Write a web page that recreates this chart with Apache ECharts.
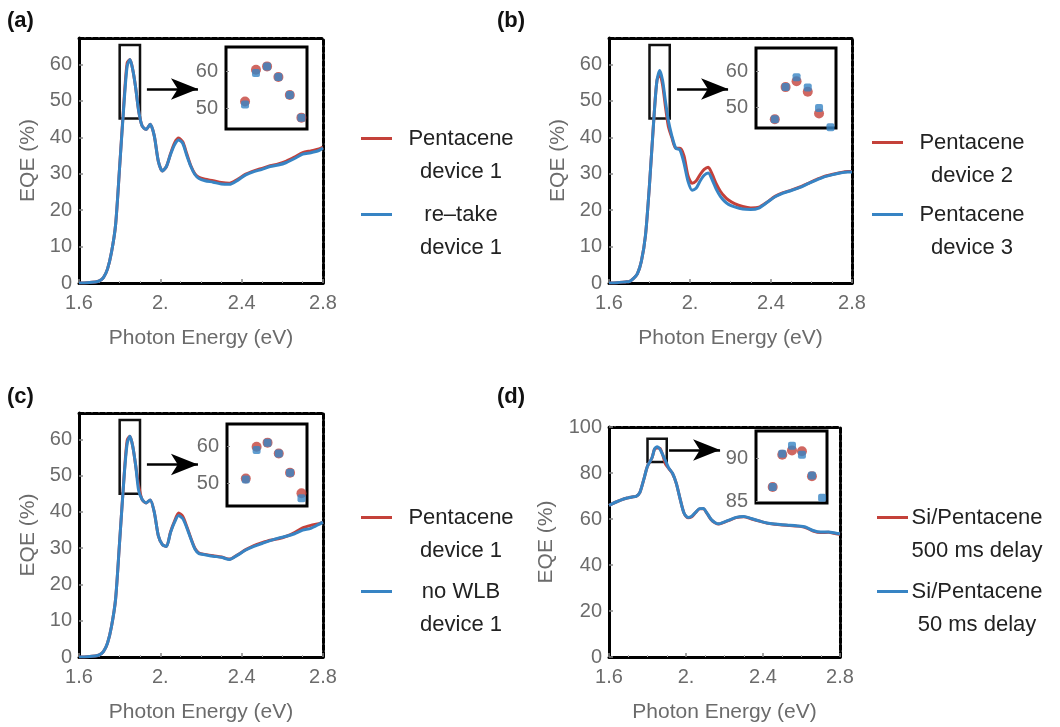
<!DOCTYPE html>
<html>
<head>
<meta charset="utf-8">
<title>EQE spectra</title>
<script src="https://cdn.jsdelivr.net/npm/echarts@6/dist/echarts.min.js"></script>
<style>
  html, body { margin: 0; padding: 0; background: #fff; }
  #chart { width: 1060px; height: 727px; }
</style>
</head>
<body>
<div id="chart"></div>
<script>
// photon energy grid (eV), shared by the four panels
const energy = [1.60, 1.64, 1.68, 1.70, 1.72, 1.74, 1.76, 1.78, 1.80, 1.8235, 1.837, 1.8507, 1.8647, 1.8788, 1.8931,
  1.91, 1.93, 1.95, 1.97, 1.99, 2.01, 2.03, 2.05, 2.07, 2.09, 2.11, 2.13, 2.15, 2.17, 2.19,
  2.22, 2.26, 2.30, 2.34, 2.38, 2.42, 2.46, 2.50, 2.54, 2.58, 2.62, 2.66, 2.70, 2.74, 2.78, 2.80]

// (a)
const aRed = [0, 0.1, 0.3, 0.6, 1.5, 3.8, 8.5, 16, 32, 51.8, 60.5, 61.4, 58.5, 53.6, 47.4,
  43.2, 42.2, 43.6, 40.5, 33.5, 30.8, 32, 35.5, 38.5, 39.8, 38.8, 35.5, 32.2, 30, 29,
  28.5, 28.1, 27.6, 27.4, 28.5, 29.9, 30.8, 31.5, 32.2, 32.7, 33.5, 34.6, 35.8, 36.3, 36.8, 37.3]
const aBlue = [0, 0.1, 0.3, 0.6, 1.5, 3.8, 8.5, 16, 32, 51.0, 59.6, 61.4, 58.5, 53.6, 47.4,
  43.2, 42.2, 43.6, 40.5, 33.5, 30.8, 32, 35.3, 38, 39.3, 38.4, 35, 32, 29.8, 28.7,
  28.1, 27.7, 27.2, 27.1, 28.2, 29.7, 30.6, 31.2, 32, 32.4, 33.1, 34.2, 35.4, 35.8, 36.4, 37.1]
// (b)
const bRed = [0, 0.1, 0.3, 0.4, 1.2, 2.5, 6, 13, 27, 46.8, 55.7, 57.3, 54.4, 48.4, 43,
  40, 37, 37, 35, 29.5, 27.4, 28, 29.8, 31.2, 31.8, 29.8, 27.2, 25.2, 23.8, 22.8,
  21.8, 21, 20.6, 20.8, 22.2, 23.8, 24.8, 25.5, 26.3, 27.3, 28.3, 29.2, 29.8, 30.3, 30.6, 30.6]
const bBlue = [0, 0.1, 0.3, 0.4, 1.2, 2.5, 6, 13, 27, 46.8, 55.7, 58.4, 55.6, 49.9, 44.6,
  40.5, 37, 36.6, 33, 28, 25.5, 26, 28, 29.6, 30.2, 28.3, 25.7, 23.8, 22.5, 21.6,
  20.9, 20.3, 20.2, 20.6, 22.1, 23.7, 24.7, 25.4, 26.2, 27.2, 28.2, 29.1, 29.7, 30.2, 30.5, 30.5]
// (c)
const cRed = [0, 0.1, 0.3, 0.6, 1.5, 3.8, 8.5, 16, 32, 51.3, 59.8, 60.9, 58.0, 52.8, 47.3,
  43.5, 42.5, 43.3, 40, 33.5, 31, 30.5, 34.5, 37.5, 39.7, 38.8, 36, 32.8, 30, 28.7,
  28.3, 27.9, 27.6, 27.0, 28.2, 29.6, 30.7, 31.5, 32.2, 32.6, 33.3, 34.3, 35.6, 36.3, 36.8, 37.2]
const cBlue = [0, 0.1, 0.3, 0.6, 1.5, 3.8, 8.5, 16, 32, 51.0, 58.9, 60.9, 58.0, 52.8, 46.0,
  43.5, 42.5, 43.3, 40, 33.5, 31, 30.5, 34.3, 37.2, 39, 38.2, 35.7, 32.6, 29.8, 28.5,
  28.2, 27.8, 27.5, 26.9, 28.1, 29.5, 30.5, 31.3, 32.1, 32.8, 33.3, 34.0, 35, 35.5, 36.6, 37.2]
// (d)
const dRed = [65.9, 67.5, 68.8, 69.2, 69.6, 69.8, 71.5, 77, 83, 86.65, 90.4, 90.9, 90.8, 87.9, 84.0,
  82, 79.8, 75.4, 68.5, 62.5, 60.5, 61, 62.8, 64.4, 64.5, 62.3, 59.8, 58.4, 57.8, 58.3,
  59.3, 60.6, 61, 60, 59.1, 58.2, 57.7, 57.4, 57.2, 56.9, 56.3, 54.8, 54.1, 54.2, 53.6, 53.4]
const dBlue = [65.9, 67.5, 68.8, 69.2, 69.6, 69.8, 71.5, 77, 83, 86.65, 90.5, 91.45, 90.4, 88.0, 85.4,
  82.2, 79.9, 75.4, 68.5, 62.5, 60.7, 61.2, 62.9, 64.5, 64.6, 62.4, 59.9, 58.5, 57.9, 58.4,
  59.4, 60.7, 61.1, 60.2, 59.2, 58.3, 57.8, 57.5, 57.3, 57.0, 56.5, 55.0, 54.3, 54.4, 53.8, 53.6]

// inset points (zoom of the main peak)
const insetEnergy = [1.8235, 1.837, 1.8507, 1.8647, 1.8788, 1.8931]
const insetARed = [51.8, 60.5, 61.4, 58.5, 53.6, 47.4]
const insetABlue = [51.0, 59.6, 61.4, 58.5, 53.6, 47.4]
const insetBRed = [46.8, 55.7, 57.3, 54.4, 48.4, 43.0]
const insetBBlue = [46.8, 55.7, 58.4, 55.6, 49.9, 44.6]
const insetCRed = [51.3, 59.8, 60.9, 58.0, 52.8, 47.3]
const insetCBlue = [51.0, 58.9, 60.9, 58.0, 52.8, 46.0]
const insetDRed = [86.65, 90.4, 90.9, 90.8, 87.9, 84.0]
const insetDBlue = [86.65, 90.5, 91.45, 90.4, 88.0, 85.4]

const legendNames = [
  ['Pentacene device 1', 're–take device 1'],
  ['Pentacene device 2', 'Pentacene device 3'],
  ['Pentacene device 1', 'no WLB device 1'],
  ['Si/Pentacene 500 ms delay', 'Si/Pentacene 50 ms delay']
]
const legendLines = {
  'Pentacene device 1': ['Pentacene', 'device 1'],
  're–take device 1': ['re–take', 'device 1'],
  'Pentacene device 2': ['Pentacene', 'device 2'],
  'Pentacene device 3': ['Pentacene', 'device 3'],
  'no WLB device 1': ['no WLB', 'device 1'],
  'Si/Pentacene 500 ms delay': ['Si/Pentacene', '500 ms delay'],
  'Si/Pentacene 50 ms delay': ['Si/Pentacene', '50 ms delay']
}

const RED = '#c4413a'
const BLUE = '#3784c4'
const FONT = 'Liberation Sans, Arial, sans-serif'
const GRAY = '#6b6b6b'

const chart = echarts.init(document.getElementById('chart'))

// layout of the panels, in pixels
const mainGrids = [
  { left: 79, top: 38, width: 244, height: 245 },
  { left: 609, top: 38, width: 243, height: 245 },
  { left: 79, top: 413, width: 244, height: 244 },
  { left: 609, top: 427, width: 231, height: 230 }
]
const insetGrids = [
  { left: 226, top: 47, width: 81, height: 82 },
  { left: 756, top: 48, width: 80, height: 80 },
  { left: 227, top: 424, width: 80, height: 82 },
  { left: 756, top: 431, width: 71, height: 72 }
]
const yMax = [67.3, 67.3, 67.3, 100]
const yInterval = [10, 10, 10, 20]
const insetY = [[44.3, 66.7], [44.4, 66.5], [43.9, 65.9], [84.8, 93.15]]
const insetTicks = [[50, 60], [50, 60], [50, 60], [85, 90]]
const zoomBox = [[45.2, 65.4], [45.2, 65.4], [45.0, 65.4], [84.8, 94.9]]
const arrows = [[1.934, 2.185, 53.3], [1.936, 2.188, 53.3], [1.934, 2.185, 53.1], [1.912, 2.177, 90]]
const legendPos = [[361, 137, 213], [872, 141, 213], [361, 516, 590], [877, 516, 590]]
const panelTags = [['(a)', 7, 10], ['(b)', 497, 10], ['(c)', 7, 386], ['(d)', 497, 386]]

const mainData = [[aRed, aBlue], [bRed, bBlue], [cRed, cBlue], [dRed, dBlue]]
const insetData = [[insetARed, insetABlue], [insetBRed, insetBBlue], [insetCRed, insetCBlue], [insetDRed, insetDBlue]]

const pairs = (xs, ys) => xs.map((x, i) => [x, ys[i]])

let grid = []
let xAxis = []
let yAxis = []
let series = []
let legend = []

for (let p = 0; p < 4; p++) {
  grid.push(mainGrids[p])
  // bottom axis with labels
  xAxis.push({
    type: 'value', gridIndex: p, min: 1.6, max: 2.8, interval: 0.4, position: 'bottom',
    axisLine: { show: true, onZero: false, lineStyle: { color: '#000', width: 3 } },
    axisTick: { show: true, inside: true, length: 4, lineStyle: { color: '#888', width: 1.5 } },
    minorTick: { show: true, splitNumber: 4, length: 2, lineStyle: { color: '#aaa' } },
    splitLine: { show: false },
    axisLabel: {
      color: GRAY, fontSize: 20, fontFamily: FONT, margin: 10,
      formatter: v => (Math.abs(v - 2) < 1e-9 ? '2.' : v.toFixed(1))
    },
    name: 'Photon Energy (eV)', nameLocation: 'middle', nameGap: 45,
    nameTextStyle: { color: GRAY, fontSize: 21, fontFamily: FONT }
  })
  // top frame edge
  xAxis.push({
    type: 'value', gridIndex: p, min: 1.6, max: 2.8, position: 'top',
    axisLine: { show: true, onZero: false, lineStyle: { color: '#000', width: 3, type: [5, 2] } },
    axisTick: { show: false }, axisLabel: { show: false }, splitLine: { show: false }
  })
  yAxis.push({
    type: 'value', gridIndex: p, min: 0, max: yMax[p], interval: yInterval[p], position: 'left',
    axisLine: { show: true, onZero: false, lineStyle: { color: '#000', width: 3 } },
    axisTick: { show: true, inside: true, length: 4, lineStyle: { color: '#888', width: 1.5 } },
    splitLine: { show: false },
    axisLabel: { color: GRAY, fontSize: 20, fontFamily: FONT, margin: 7, showMaxLabel: p === 3 },
    name: 'EQE (%)', nameLocation: 'middle', nameGap: p === 3 ? 52 : 40,
    nameTextStyle: { color: GRAY, fontSize: 21, fontFamily: FONT }
  })
  yAxis.push({
    type: 'value', gridIndex: p, min: 0, max: yMax[p], position: 'right',
    axisLine: { show: true, onZero: false, lineStyle: { color: '#000', width: 3, type: [5, 2] } },
    axisTick: { show: false }, axisLabel: { show: false }, splitLine: { show: false }
  })
}

for (let p = 0; p < 4; p++) {
  grid.push(Object.assign({ show: true, borderColor: '#000', borderWidth: 3, backgroundColor: '#fff' }, insetGrids[p]))
  xAxis.push({
    type: 'value', gridIndex: 4 + p, min: 1.80, max: 1.90,
    axisLine: { show: false }, axisTick: { show: false }, axisLabel: { show: false }, splitLine: { show: false }
  })
  yAxis.push({
    type: 'value', gridIndex: 4 + p, min: insetY[p][0], max: insetY[p][1],
    axisLine: { show: false }, splitLine: { show: false },
    axisTick: { show: true, inside: true, length: 3, customValues: insetTicks[p], lineStyle: { color: '#888' } },
    axisLabel: { customValues: insetTicks[p], color: GRAY, fontSize: 20, fontFamily: FONT, margin: 8 }
  })
}

for (let p = 0; p < 4; p++) {
  const names = legendNames[p]
  series.push({
    name: names[0], type: 'line', xAxisIndex: 2 * p, yAxisIndex: 2 * p,
    data: pairs(energy, mainData[p][0]), showSymbol: false, smooth: 0.25,
    color: RED, lineStyle: { color: RED, width: 3 }, z: 2,
    markArea: {
      silent: true,
      itemStyle: { color: 'rgba(0,0,0,0)', borderColor: '#111', borderWidth: 2.5 },
      data: [[{ coord: [1.80, zoomBox[p][1]] }, { coord: [1.90, zoomBox[p][0]] }]]
    },
    markLine: {
      silent: true, symbol: ['none', 'arrow'], symbolSize: [16, 27],
      label: { show: false },
      lineStyle: { color: '#000', width: 2.5, type: 'solid' },
      data: [[{ coord: [arrows[p][0], arrows[p][2]] }, { coord: [arrows[p][1], arrows[p][2]] }]]
    }
  })
  series.push({
    name: names[1], type: 'line', xAxisIndex: 2 * p, yAxisIndex: 2 * p,
    data: pairs(energy, mainData[p][1]), showSymbol: false, smooth: 0.25,
    color: BLUE, lineStyle: { color: BLUE, width: 3 }, z: 3
  })
  series.push({
    name: 'inset ' + p + ' red', type: 'scatter', xAxisIndex: 8 + p, yAxisIndex: 8 + p,
    data: pairs(insetEnergy, insetData[p][0]), symbol: 'circle', symbolSize: 10,
    itemStyle: { color: RED }, clip: true, z: 4
  })
  series.push({
    name: 'inset ' + p + ' blue', type: 'scatter', xAxisIndex: 8 + p, yAxisIndex: 8 + p,
    data: pairs(insetEnergy, insetData[p][1]), symbol: 'roundRect', symbolSize: 8,
    itemStyle: { color: BLUE }, clip: true, z: 5
  })

  // one legend block per entry, so the line sits next to the first text line
  for (let k = 0; k < 2; k++) {
    legend.push({
      orient: 'vertical', left: legendPos[p][0], top: legendPos[p][k + 1] - 9.5, padding: 0,
      itemWidth: 31, itemHeight: 3, icon: 'rect', selectedMode: false,
      data: [names[k]],
      formatter: name => '{a|' + legendLines[name][0] + '}\n{a|' + legendLines[name][1] + '}',
      textStyle: {
        padding: [33, 0, 0, 0],
        rich: { a: { width: 128, align: 'center', fontSize: 22, lineHeight: 33, color: '#222', fontFamily: FONT } }
      }
    })
  }
}

const option = {
  backgroundColor: '#fff',
  animation: false,
  title: panelTags.map(t => ({
    text: t[0], left: t[1], top: t[2], padding: 0,
    textStyle: { fontSize: 22, fontWeight: 'bold', color: '#111', fontFamily: FONT }
  })),
  legend: legend,
  grid: grid,
  xAxis: xAxis,
  yAxis: yAxis,
  series: series
}
option && chart.setOption(option)
</script>
</body>
</html>
